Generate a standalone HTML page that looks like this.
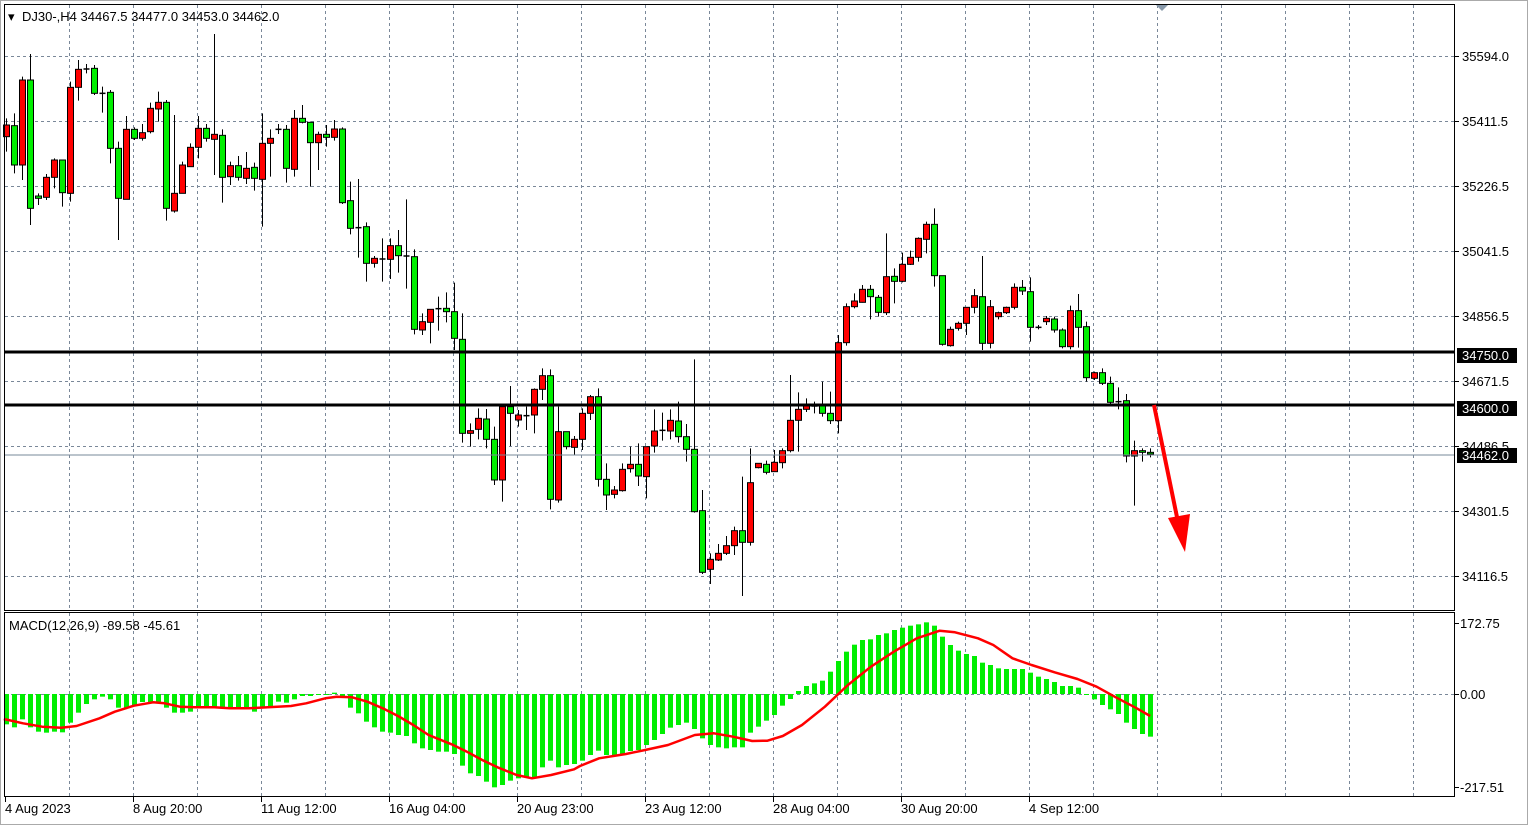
<!DOCTYPE html>
<html><head><meta charset="utf-8">
<style>
html,body{margin:0;padding:0;background:#fff;}
svg{display:block;font-family:"Liberation Sans",sans-serif;font-size:13px;}
</style></head>
<body>
<svg id="s" width="1528" height="825" xmlns="http://www.w3.org/2000/svg">
<rect x="0" y="0" width="1528" height="825" fill="#fff"/>
<g id="grid"></g>
<g id="macd"></g>
<g id="candles"></g>
<!-- horizontal levels -->
<line x1="5" y1="455" x2="1455" y2="455" stroke="#778899" stroke-width="1"/>
<rect x="5" y="350.5" width="1450" height="3" fill="#000"/>
<rect x="5" y="403.5" width="1450" height="3" fill="#000"/>
<!-- arrow -->
<line x1="1154" y1="405" x2="1178" y2="522" stroke="#ff0000" stroke-width="4"/>
<polygon points="1168,518 1190,514 1185,552" fill="#ff0000"/>
<!-- frames -->
<rect x="4.5" y="4.5" width="1450" height="606" fill="none" stroke="#000"/>
<rect x="4.5" y="612.5" width="1450" height="184" fill="none" stroke="#000"/>
<rect x="0.5" y="0.5" width="1527" height="824" fill="none" stroke="#aaa"/>
<polygon points="1156,5 1168,5 1162,11" fill="#8899aa"/>
<g id="axis"></g>
<text x="8" y="21" fill="#000">▾</text>
<text x="22" y="21" fill="#000">DJ30-,H4  34467.5 34477.0 34453.0 34462.0</text>
<text x="9" y="630" fill="#000">MACD(12,26,9) -89.58 -45.61</text>
</svg>
<script>
const NS="http://www.w3.org/2000/svg";
function el(p,t,a,txt){const e=document.createElementNS(NS,t);for(const k in a)e.setAttribute(k,a[k]);if(txt!==undefined)e.textContent=txt;document.getElementById(p).appendChild(e);return e;}
// grid
const hy=[56,121,186,251,316,381,446,511,576];
hy.forEach(y=>el('grid','line',{x1:5,x2:1455,y1:y+.5,y2:y+.5,stroke:'#7a8899','stroke-dasharray':'3,3'}));
for(let x=69.5;x<1455;x+=64){
 el('grid','line',{x1:x,x2:x,y1:5,y2:610,stroke:'#7a8899','stroke-dasharray':'3,3'});
 el('grid','line',{x1:x,x2:x,y1:613,y2:796,stroke:'#7a8899','stroke-dasharray':'3,3'});
}
el('grid','line',{x1:5,x2:1455,y1:694.5,y2:694.5,stroke:'#7a8899','stroke-dasharray':'3,3'});
// price axis
const pl=['35594.0','35411.5','35226.5','35041.5','34856.5','34671.5','34486.5','34301.5','34116.5'];
pl.forEach((t,i)=>{el('axis','line',{x1:1455,x2:1459,y1:hy[i]+.5,y2:hy[i]+.5,stroke:'#000'});el('axis','text',{x:1462,y:hy[i]+5,fill:'#000'},t);});
[['34750.0',355],['34600.0',408],['34462.0',455]].forEach(a=>{el('axis','rect',{x:1457,y:a[1]-7,width:60,height:15,fill:'#000'});el('axis','text',{x:1462,y:a[1]+5,fill:'#fff'},a[0]);});
[['172.75',623],['0.00',694],['-217.51',787]].forEach(a=>{el('axis','line',{x1:1455,x2:1459,y1:a[1]+.5,y2:a[1]+.5,stroke:'#000'});el('axis','text',{x:1460,y:a[1]+5,fill:'#000'},a[0]);});
const tl=['4 Aug 2023','8 Aug 20:00','11 Aug 12:00','16 Aug 04:00','20 Aug 23:00','23 Aug 12:00','28 Aug 04:00','30 Aug 20:00','4 Sep 12:00'];
tl.forEach((t,i)=>{const x=5+128*i;el('axis','line',{x1:x+.5,x2:x+.5,y1:797,y2:802,stroke:'#000'});el('axis','text',{x:x,y:813,fill:'#000'},t);});
// candles: [color, bodyTop, bodyBot, wickTop, wickBot] in zoom coords
const c1=[['r',285,320,265,365],['g',287,405,250,430],['r',150,405,140,450],['g',150,535,72,585],['g',498,505,490,525],['r',442,502,432,510],['r',390,442,385,475],['g',390,488,390,530],['r',172,490,155,515],['r',118,172,90,212],['d',117,117,102,130],['g',115,190,105,195],['d',190,190,170,248],['g',187,355,180,400],['g',355,505,335,630],['r',298,508,258,508],['g',298,325,292,330],['r',308,325,282,332],['r',235,305,218,310],['r',217,237,185,275],['g',217,535,210,572],['r',490,543,255,548],['r',405,490,395,490],['r',352,410,340,410],['r',295,352,258,385],['g',295,325,282,335],['r',313,328,12,435],['g',316,442,298,518],['r',407,440,395,465],['g',407,442,378,452],['r',415,445,366,462],['g',412,445,398,482],['r',340,448,250,590],['r',325,340,298,440],['d',298,298,282,312],['g',298,415,285,458],['r',265,418,240,440],['g',265,277,225,280],['g',277,338,275,470],['r',313,338,305,420],['g',313,322,285,350],['r',297,322,270,332],['g',297,518,292,522],['g',512,595,455,613],['d',593,593,447,683],['g',590,700,577,755],['r',685,700,678,713],['d',687,687,625,755],['r',647,688,625,747],['g',647,677,600,728],['d',678,678,508,776],['g',680,898,658,913],['r',875,900,850,915],['r',838,877,838,940],['d',836,836,800,902],['g',835,845,787,877],['g',845,925,758,960],['g',928,1210,850,1238],['r',1202,1210,1180,1250],['r',1165,1198,1135,1228],['g',1167,1228,1137,1255],['g',1228,1350,1190,1365],['r',1130,1350,1130,1415],['g',1130,1150,1068,1248],['r',1155,1170,1140,1190],['d',1157,1157,1130,1200],['r',1078,1155,1075,1210],['r',1037,1078,1015,1110],['g',1037,1408,1018,1438],['r',1205,1410,1130,1418],['g',1205,1250,1205,1258],['r',1228,1252,1218,1275],['r',1150,1228,1135,1260],['r',1100,1150,1095,1170]];
const c2=[['g',590,838,565,860],['g',838,885,790,930],['r',870,883,858,895],['r',808,872,790,875],['r',793,806,740,818],['g',793,828,730,858],['r',740,830,740,895],['r',693,738,628,758],['d',691,691,638,722],['r',661,693,628,718],['g',663,710,605,728],['g',710,748,672,785],['g',748,935,478,938],['g',932,1117,870,1122],['r',1078,1108,1060,1152],['r',1060,1080,1032,1083],['r',1037,1060,1008,1065],['r',992,1037,980,1065],['g',992,1027,830,1188],['r',848,1027,745,1037],['r',790,803,790,805],['g',793,817,782,823],['r',787,815,750,815],['r',752,788,745,805],['r',661,752,525,757],['r',628,661,577,755],['r',618,628,595,636],['d',618,618,605,640],['g',618,640,545,650],['g',640,662,575,672],['r',428,662,405,700],['r',320,428,310,437],['r',303,320,280,325],['r',268,307,255,308],['g',268,290,255,358],['g',292,337,285,350],['r',230,338,100,345],['g',229,244,205,310],['r',193,244,158,247],['r',172,193,152,195],['r',115,172,112,185],['r',73,118,65,160],['g',73,227,25,260],['g',227,433,227,437],['r',388,437,380,440],['r',370,385,365,392],['r',322,370,322,405],['r',287,322,267,340],['g',290,430,168,450],['r',320,430,300,445],['r',338,350,335,358],['r',322,338,320,342],['r',262,322,250,328],['g',262,273,240,285],['g',275,382,232,425],['d',382,382,375,388],['r',355,365,348,375],['g',357,390,350,398],['g',390,440,385,445],['r',332,440,317,448],['g',332,382,282,443],['g',380,533,365,545],['r',518,535,515,540],['g',518,550,505,555],['g',550,607,530,612],['d',605,605,562,628],['g',602,768,582,787],['r',752,768,722,917],['g',752,757,745,785],['g',757,762,745,772]];
function drawC(i,c,y0){
 const x=5.7+8*i, bt=y0+c[1]/3, bb=y0+c[2]/3, wt=y0+c[3]/3, wb=y0+c[4]/3;
 const cx=Math.round(x)+.5;
 el('candles','line',{x1:cx,x2:cx,y1:wt,y2:wb,stroke:'#000','stroke-width':1});
 if(c[0]==='d'){el('candles','line',{x1:cx-3,x2:cx+3,y1:bt,y2:bt,stroke:'#000','stroke-width':1.5});return;}
 el('candles','rect',{x:cx-3,y:bt,width:6,height:Math.max(1,bb-bt),fill:c[0]==='g'?'#00ee00':'#ff0000',stroke:'#000','stroke-width':1});
}
c1.forEach((c,i)=>drawC(i,c,30));
c2.forEach((c,i)=>drawC(74+i,c,200));
// MACD histogram bottoms (zoom y, 610 + zy/3)
const h=[343,352,328,352,365,368,365,367,338,308,282,268,260,268,293,293,285,276,276,278,293,308,308,305,293,293,293,293,293,293,293,305,293,293,275,278,268,258,258,255,253,248,260,293,310,335,352,365,368,375,378,400,415,420,425,425,432,467,490,498,515,532,525,512,505,500,502,472,452,472,465,462,452,435,422,435,438,432,423,420,405,390,372,353,345,338,357,385,405,412,415,412,412,368,350,332,315,287,267,243,228,220,212,185,153,125,104,90,88,75,70,60,53,47,43,37,47,80,105,122,132,138,158,165,175,177,177,177,188,200,207,216,228,228,233,253,268,285,298,312,338,357,372,380];
h.forEach((v,i)=>{const x=Math.round(5.7+8*i)-2,y=610+v/3;const t=Math.min(694,y),b=Math.max(694,y);el('macd','rect',{x:x,y:t,width:5,height:Math.max(1,b-t),fill:'#00ee00'});});
const s1=[[10,327],[60,340],[110,350],[160,353],[200,348],[260,325],[300,305],[350,287],[400,277],[430,280],[470,290],[510,292],[560,292],[600,295],[650,295],[700,292],[760,288],[800,280],[850,265],[880,260],[920,262],[960,275],[1000,295],[1040,318],[1080,345],[1120,375],[1180,403],[1220,425],[1260,450],[1300,472],[1350,495],[1390,505],[1440,495],[1500,478]];
const s2=[[0,468],[50,445],[120,432],[170,420],[230,405],[300,375],[350,370],[400,380],[450,393],[490,392],[530,378],[580,345],[640,290],[700,225],[760,170],[820,125],[880,85],[940,62],[980,67],[1040,85],[1080,105],[1130,145],[1180,165],[1240,187],[1300,207],[1350,230],[1400,262],[1450,292],[1490,318]];
let pts=s1.map(p=>[p[0]/2.613,610+p[1]/3]).concat(s2.map(p=>[580+p[0]/2.613,610+p[1]/3]));
el('macd','polyline',{points:pts.map(p=>p[0].toFixed(1)+','+p[1].toFixed(1)).join(' '),fill:'none',stroke:'#ff0000','stroke-width':2.5,'stroke-linejoin':'round'});
</script>
</body></html>
